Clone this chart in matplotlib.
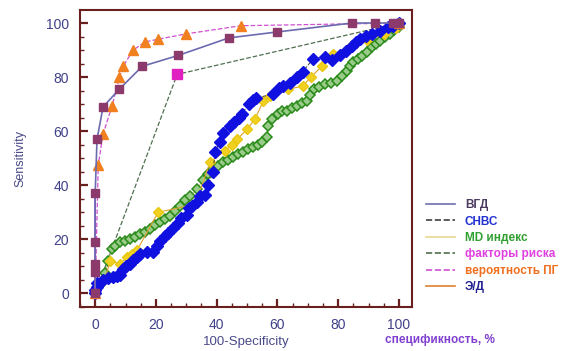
import numpy as np
import matplotlib
matplotlib.use('Agg')
import matplotlib.pyplot as plt
from matplotlib.lines import Line2D
from matplotlib.ticker import MultipleLocator

plt.rcParams['font.family'] = ['Liberation Sans', 'DejaVu Sans']

# ВГД (squares)
vgd_x = [0, 0, 0, 0, 0, 0.6, 2.6, 8, 15.5, 27.3, 44, 60, 84.5, 92, 98, 100]
vgd_y = [0, 8, 11, 19, 37, 57, 69, 75.6, 84, 88, 94.5, 96.7, 100, 100, 100, 100]

# вероятность ПГ (triangles)
ppg_x = [0, 1, 2.6, 5.6, 8, 9.2, 12.5, 16.4, 20.7, 30, 48, 100]
ppg_y = [0, 47.5, 59, 69.5, 80, 84, 90, 93, 94, 96, 99, 100]

# факторы риска (single operating point)
rf_x = [0, 27, 100]
rf_y = [0, 81, 100]

# СНВС (blue diamonds)
snvs_x = [0, 0, 0.6, 0.5, 2.5, 4.3, 5.8, 7.2, 8.2, 9.2, 10.3, 11.5, 12.5, 13.8,
          14.8, 17, 19, 20.2, 21.4, 23, 24, 25.7, 27.3, 28.2, 30.3, 30.8, 32,
          33.5, 34.5, 36, 37.2, 38.8, 39.5, 41, 42, 44.5, 45.8, 47.5, 48.3,
          50.6, 51.8, 53, 58.5, 60.5, 61.8, 64, 66.5, 68.4, 71.7, 75.7, 78,
          80.6, 82.6, 84.5, 86, 87.2, 89, 91, 93.8, 96.5, 98, 100]
snvs_y = [0, 1.2, 2.5, 3.8, 5, 5.7, 6, 6.5, 7, 9, 10, 11, 12.2, 13.5,
          14.5, 15.2, 15.5, 17.5, 19.5, 21.3, 22.2, 24.3, 26, 27.8, 29, 31.6, 32.3,
          34, 36, 36.3, 40, 45, 52.4, 56, 59.5, 62, 63.5, 65, 66.5,
          70, 71.5, 72.3, 73.7, 76, 76.7, 78, 80, 82, 86.8, 87.6, 86.5,
          88, 89.7, 91.5, 93, 94, 95.2, 96, 97, 98.5, 99, 100]

# MD индекс (green open diamonds)
md_x = [0, 1.6, 3.3, 4.3, 5.6, 6.5, 8.2, 9.8, 11.5, 13, 14.8, 16.3, 18, 19.6,
        21.4, 23, 24.7, 26.3, 28, 29.6, 31.2, 33.5, 35.5, 37, 38.8, 40.4, 42,
        43.7, 45.4, 47, 48.7, 50.3, 52, 53.5, 55, 56.6, 57, 58.2, 60.2, 61.5,
        63, 64.7, 66.4, 68, 69.7, 70.7, 71.9, 73.7, 75.7, 77.6, 79.6, 81.3,
        82.9, 84, 84.9, 86.5, 88, 89.5, 91, 92.4, 93.8, 95.4, 97, 98.5, 100]
md_y = [0, 3, 7.6, 12, 16.3, 17.5, 19, 19.5, 20, 21, 21.9, 22.8, 23.9, 25.2,
        26.5, 27.6, 28.7, 30.4, 32.4, 34.5, 36, 38.5, 42, 44, 46, 47.3, 48.6,
        49.5, 50.5, 51.5, 52.4, 53.3, 54, 55, 56, 58, 62, 64.5, 66.4, 67.5,
        67.5, 68.6, 69.5, 70.3, 71, 73.5, 75.6, 76.5, 77.4, 78, 78.5, 80.4,
        82.3, 84, 85.5, 86.7, 87.8, 89.4, 91, 92.3, 93.5, 94.8, 96, 97.3, 98.6]

# Э/Д (yellow diamonds)
ed_x = [0, 3, 5, 8.2, 10.5, 12, 13.8, 20.7, 33, 37.8, 42.8, 45, 46.7, 50,
        52.6, 55.3, 57.6, 63.5, 68.4, 71, 74.6, 78.3, 84, 89.6, 95, 99]
ed_y = [0, 5, 12, 11, 13.5, 14.5, 16, 30, 33, 48.6, 52.7, 55, 57, 60.7,
        64.5, 71, 73, 75.5, 76.7, 80, 84, 88.6, 91, 93.6, 96, 98]

labels = ['ВГД', 'СНВС', 'MD индекс', 'факторы риска', 'вероятность ПГ', 'Э/Д']
text_colors = ['#4a3a5e', '#2030d0', '#30a030', '#e040e0', '#f07020', '#202090']
leg_colors = ['#7070b0', '#404040', '#e8d890', '#507050', '#d050d0', '#e08030']
leg_styles = ['-', '--', '-', '--', '--', '-']

fig = plt.figure(figsize=(5.81, 3.51), dpi=100)
ax = fig.add_axes([0.1377, 0.1254, 0.5714, 0.846])

# lines / markers
ax.plot(md_x, md_y, color='#c8c890', lw=0.8, marker='D', ms=5.5,
        mfc='#98cc88', mec='#2a8a1a', mew=1.1, zorder=3)
ax.plot(ed_x, ed_y, color='#e0a030', lw=0.8, marker='D', ms=5.5,
        mfc='#f0d020', mec='#e8c810', zorder=4)
ax.plot(snvs_x, snvs_y, color='#404040', lw=0.7, ls='--', marker='D', ms=5.8,
        mfc='#1010e0', mec='#1010e0', zorder=5)
ax.plot(rf_x, rf_y, color='#507050', lw=0.9, ls='--', zorder=2)
ax.plot(rf_x[1], rf_y[1], marker='s', ms=6.5, color='#e020c0', ls='none', zorder=6)
ax.plot(ppg_x, ppg_y, color='#d050d0', lw=0.9, ls='--', marker='^', ms=7,
        mfc='#f08020', mec='#f08020', zorder=6)
ax.plot(vgd_x, vgd_y, color='#6b6bb0', lw=1.2, marker='s', ms=5.5,
        mfc='#8b3a6b', mec='#8b3a6b', zorder=7)
ax.plot([0, 0], [0, 37], color='#b040c0', lw=1.2, zorder=6)

ax.set_xlim(-5, 104.3)
ax.set_ylim(-5, 104.8)
ax.xaxis.set_major_locator(MultipleLocator(20))
ax.yaxis.set_major_locator(MultipleLocator(20))
ax.xaxis.set_minor_locator(MultipleLocator(5))
ax.yaxis.set_minor_locator(MultipleLocator(5))

spine_c = '#6a1f1f'
for s in ax.spines.values():
    s.set_color(spine_c)
    s.set_linewidth(1.5)
ax.tick_params(which='major', direction='in', length=6, width=1.6, color=spine_c,
               labelsize=10, labelcolor='#40408a', pad=8)
ax.tick_params(which='minor', direction='in', length=3, width=1, color=spine_c)
ax.tick_params(top=False, right=False, which='both')

ax.set_xlabel('100-Specificity', color='#4a4a8a', fontsize=9.5, labelpad=3)
ax.set_ylabel('Sensitivity', color='#4a4a8a', fontsize=9, labelpad=14)

handles = [Line2D([0], [0], color=c, ls=ls, lw=1.2) for c, ls in zip(leg_colors, leg_styles)]
leg = fig.legend(handles, labels, loc='upper left', bbox_to_anchor=(0.733, 0.433),
                 frameon=False, handlelength=2.5, handletextpad=0.8,
                 labelspacing=0.38, borderpad=0, borderaxespad=0,
                 prop={'weight': 'bold', 'size': 8.5})
for t, c in zip(leg.get_texts(), text_colors):
    t.set_color(c)

fig.text(0.662, 0.032, 'спецификность, %', color='#8040d0', fontsize=8.5,
         fontweight='bold', ha='left', va='center')

fig.savefig('out.png', dpi=100)
